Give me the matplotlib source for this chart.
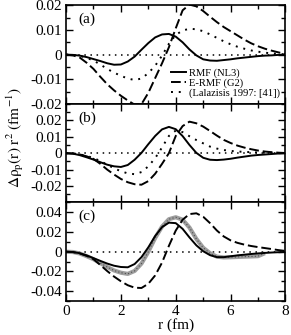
import numpy as np
import matplotlib
matplotlib.use("Agg")
import matplotlib.pyplot as plt
from matplotlib.ticker import MultipleLocator

plt.rcParams['font.family'] = ['Liberation Serif', 'DejaVu Serif']
plt.rcParams['mathtext.fontset'] = 'stix'

# radial grid (fm)
r = [0.0, 0.25, 0.5, 0.75, 1.0, 1.25, 1.5, 1.75, 2.0, 2.25, 2.5, 2.75, 3.0, 3.25,
     3.5, 3.75, 4.0, 4.25, 4.5, 4.75, 5.0, 5.25, 5.5, 5.75, 6.0, 6.25, 6.5, 6.75,
     7.0, 7.25, 7.5, 7.75, 8.0]

# panel (a)
a_nl3 = [0, -0.0001, -0.0004, -0.0010, -0.0018, -0.0026, -0.0035, -0.0041, -0.0040,
         -0.0028, -0.0008, 0.0020, 0.0047, 0.0070, 0.0082, 0.0084, 0.0073, 0.0050,
         0.0021, -0.0003, -0.0019, -0.0024, -0.0025, -0.0022, -0.0019, -0.0015,
         -0.0012, -0.0009, -0.0006, -0.0004, -0.0003, -0.0001, 0]
a_g2 = [0, -0.0003, -0.0012, -0.0033, -0.0058, -0.0090, -0.0120, -0.0145, -0.0167,
        -0.0186, -0.0203, -0.0201, -0.0155, -0.0095, -0.0035, 0.0030, 0.0107, 0.0180,
        0.0203, 0.0196, 0.0177, 0.0154, 0.0132, 0.0112, 0.0095, 0.0078, 0.0061,
        0.0046, 0.0034, 0.0024, 0.0016, 0.0009, 0.0003]
a_lal = [0, -0.0001, -0.0005, -0.0013, -0.0024, -0.0040, -0.0058, -0.0073, -0.0086,
         -0.0097, -0.0103, -0.0097, -0.0075, -0.0045, -0.0004, 0.0044, 0.0080, 0.0098,
         0.0105, 0.0103, 0.0095, 0.0082, 0.0068, 0.0054, 0.0042, 0.0032, 0.0024,
         0.0017, 0.0012, 0.0008, 0.0005, 0.0003, 0.0001]

# panel (b)
b_nl3 = [0, -0.0003, -0.0012, -0.0025, -0.0039, -0.0055, -0.0070, -0.0080, -0.0084,
         -0.0072, -0.0040, 0.0002, 0.0055, 0.0105, 0.0145, 0.0160, 0.0146, 0.0104,
         0.0050, 0.0002, -0.0028, -0.0040, -0.0042, -0.0039, -0.0034, -0.0027,
         -0.0021, -0.0015, -0.0011, -0.0008, -0.0005, -0.0002, 0]
b_g2 = [0, -0.0002, -0.0008, -0.0019, -0.0035, -0.0065, -0.0100, -0.0130, -0.0157,
        -0.0177, -0.0189, -0.0192, -0.0170, -0.0125, -0.0065, 0.0000, 0.0105, 0.0165,
        0.0192, 0.0182, 0.0162, 0.0135, 0.0107, 0.0081, 0.0062, 0.0046, 0.0034,
        0.0024, 0.0016, 0.0010, 0.0006, 0.0003, 0.0001]
b_lal = [0, -0.0002, -0.0007, -0.0017, -0.0029, -0.0048, -0.0070, -0.0092, -0.0110,
         -0.0123, -0.0128, -0.0115, -0.0080, -0.0030, 0.0035, 0.0105, 0.0138, 0.0128,
         0.0103, 0.0080, 0.0060, 0.0040, 0.0028, 0.0019, 0.0014, 0.0010, 0.0008,
         0.0006, 0.0004, 0.0003, 0.0002, 0.0001, 0]

# panel (c)
c_nl3 = [0, -0.0003, -0.0015, -0.0037, -0.0065, -0.0093, -0.0120, -0.0142, -0.0155,
         -0.0158, -0.0125, -0.0055, 0.0045, 0.0160, 0.0250, 0.0295, 0.0290, 0.0232,
         0.0145, 0.0065, 0.0005, -0.0035, -0.0055, -0.0055, -0.0046, -0.0037,
         -0.0030, -0.0023, -0.0017, -0.0012, -0.0008, -0.0005, -0.0002]
c_g2 = [0, -0.0004, -0.0018, -0.0042, -0.0076, -0.0135, -0.0196, -0.0252, -0.0300,
        -0.0340, -0.0365, -0.0368, -0.0325, -0.0240, -0.0110, 0.0060, 0.0215, 0.0325,
        0.0382, 0.0390, 0.0355, 0.0290, 0.0215, 0.0155, 0.0115, 0.0090, 0.0072,
        0.0058, 0.0047, 0.0037, 0.0027, 0.0016, 0.0008]
c_exp = [0, -0.0003, -0.0018, -0.0045, -0.0076, -0.0115, -0.0155, -0.0190, -0.0213,
         -0.0225, -0.0195, -0.0120, 0.0000, 0.0140, 0.0255, 0.0330, 0.0350, 0.0325,
         0.0245, 0.0130, 0.0040, -0.0015, -0.0050, -0.0058, -0.0056, -0.0053,
         -0.0050, -0.0048, -0.0045, -0.0015]

labels = ["RMF (NL3)", "E-RMF (G2)", "(Lalazisis 1997: [41])"]
panels = [
    ("(a)", a_nl3, a_g2, a_lal, (-0.02, 0.02), [0.02, 0.01, 0, -0.01, -0.02],
     ["0.02", "0.01", "0", "-0.01", "-0.02"], 0.005),
    ("(b)", b_nl3, b_g2, b_lal, (-0.03, 0.03), [0.02, 0.01, 0, -0.01, -0.02],
     ["0.02", "0.01", "0", "-0.01", "-0.02"], 0.005),
    ("(c)", c_nl3, c_g2, None, (-0.05, 0.05), [0.04, 0.02, 0, -0.02, -0.04],
     ["0.04", "0.02", "0", "-0.02", "-0.04"], 0.01),
]

fig = plt.figure(figsize=(2.91, 3.35), dpi=100)
gs = fig.add_gridspec(3, 1, left=0.227, right=0.981, top=0.984, bottom=0.1015, hspace=0)

dash = (0, (5, 2))
dots = (0, (1, 3))

for i, (tag, nl3, g2, lal, ylim, yt, ytl, yminor) in enumerate(panels):
    ax = fig.add_subplot(gs[i])
    ax.axhline(0, color='k', lw=1.1, ls=dots)
    if tag == "(c)":
        ax.plot(r[:len(c_exp)], c_exp, color='0.62', lw=3.0, solid_capstyle='butt')
        ax.plot(r[:len(c_exp)], c_exp, color='0.3', lw=0.8, ls=(0, (1, 2)))
    ax.plot(r, nl3, color='k', lw=1.4, label=labels[0])
    ax.plot(r, g2, color='k', lw=1.4, ls=dash, label=labels[1])
    if lal is not None:
        ax.plot(r, lal, color='k', lw=1.4, ls=dots, label=labels[2])
    ax.set_xlim(0, 8)
    ax.set_ylim(*ylim)
    ax.set_yticks(yt)
    ax.set_yticklabels(ytl)
    ax.yaxis.set_minor_locator(MultipleLocator(yminor))
    ax.xaxis.set_major_locator(MultipleLocator(2))
    ax.xaxis.set_minor_locator(MultipleLocator(1))
    ax.tick_params(which='both', direction='in', top=True, right=True, width=1.0,
                   labelsize=11, pad=3)
    ax.tick_params(which='major', length=5)
    ax.tick_params(which='minor', length=3)
    for s in ax.spines.values():
        s.set_linewidth(1.2)
    ax.text(0.055, 0.925, tag, transform=ax.transAxes, ha='left', va='top', fontsize=11)
    if i < 2:
        ax.tick_params(labelbottom=False)
    else:
        ax.set_xlabel("r (fm)", fontsize=11, labelpad=0)
    if i == 0:
        ax.legend(loc='lower right', bbox_to_anchor=(1.0, 0.01), frameon=False,
                  fontsize=7.6, labelspacing=0.0, handlelength=1.4,
                  handletextpad=0.3, borderpad=0.2, borderaxespad=0.3)

fig.text(0.052, 0.59, r'$\Delta\mathrm{\rho}_{\mathrm{p}}\mathrm{(r)\ r^{2}\ (fm^{-1})}$',
         rotation=90, ha='center', va='center', fontsize=11)

fig.savefig("out.png", dpi=100)
